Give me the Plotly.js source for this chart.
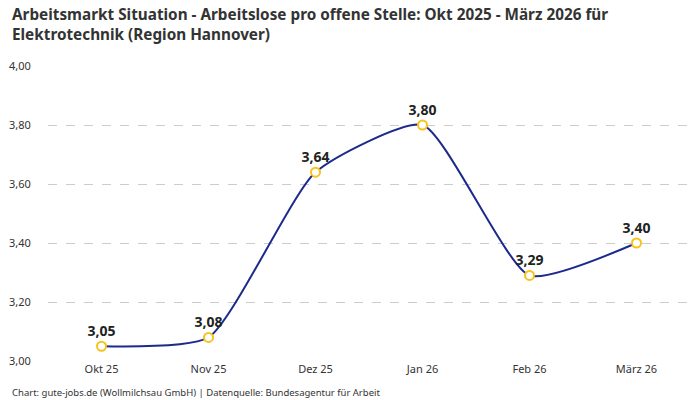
<!DOCTYPE html>
<html>
<head>
<meta charset="utf-8">
<script src="https://cdn.plot.ly/plotly-3.0.1.min.js"></script>
<style>html,body{margin:0;padding:0;background:#fff}#myDiv{width:700px;height:400px}</style>
</head>
<body>
<div id="myDiv"></div>
<script>
var months = ['Okt 25', 'Nov 25', 'Dez 25', 'Jan 26', 'Feb 26', 'März 26'];
var ratio = [3.05, 3.08, 3.64, 3.80, 3.29, 3.40];
var labels = ratio.map(function (v) { return v.toFixed(2).replace('.', ','); });

var font = 'Noto Sans, Roboto, sans-serif';

var data = [{
	x: months,
	y: ratio,
	mode: 'lines+markers+text',
	line: {color: '#1c2a8c', width: 2, shape: 'spline', smoothing: 0.55},
	marker: {size: 9, color: '#ffffff', line: {color: '#f7c21c', width: 2}},
	text: labels,
	textposition: 'top center',
	textfont: {family: font, size: 14, color: '#222', weight: 'bold'},
	cliponaxis: false,
	hoverinfo: 'x+y'
}];

var layout = {
	width: 700,
	height: 400,
	separators: ',.',
	margin: {l: 48, r: 10, t: 66, b: 39},
	paper_bgcolor: '#fff',
	plot_bgcolor: '#fff',
	font: {family: font, size: 11, color: '#333'},
	xaxis: {
		type: 'category',
		range: [-0.5, 5.5],
		showgrid: false,
		zeroline: false,
		showline: false,
		ticks: '',
		tickfont: {size: 11, color: '#333'}
	},
	yaxis: {
		range: [3.0, 4.0],
		dtick: 0.2,
		tickformat: '.2f',
		showgrid: true,
		gridcolor: '#cccccc',
		griddash: 'dash',
		gridwidth: 1,
		zeroline: false,
		showline: false,
		ticks: 'outside',
		ticklen: 14,
		tickcolor: 'rgba(0,0,0,0)',
		tickfont: {size: 11, color: '#333'}
	},
	showlegend: false,
	annotations: [{
		// title as annotation so both lines stay on the page
		text: '<b>Arbeitsmarkt Situation - Arbeitslose pro offene Stelle: Okt 2025 - März 2026 für<br>Elektrotechnik (Region Hannover)</b>',
		xref: 'paper', yref: 'paper',
		x: -0.0592, y: 1.217,
		xanchor: 'left', yanchor: 'top',
		align: 'left',
		showarrow: false,
		font: {size: 15.3, color: '#333'}
	}, {
		text: 'Chart: gute-jobs.de (Wollmilchsau GmbH) | Datenquelle: Bundesagentur für Arbeit',
		xref: 'paper', yref: 'paper',
		x: -0.0592, y: -0.108,
		xanchor: 'left', yanchor: 'middle',
		showarrow: false,
		font: {size: 9.5, color: '#333'}
	}]
};

Plotly.newPlot('myDiv', data, layout, {displayModeBar: false});
</script>
</body>
</html>
